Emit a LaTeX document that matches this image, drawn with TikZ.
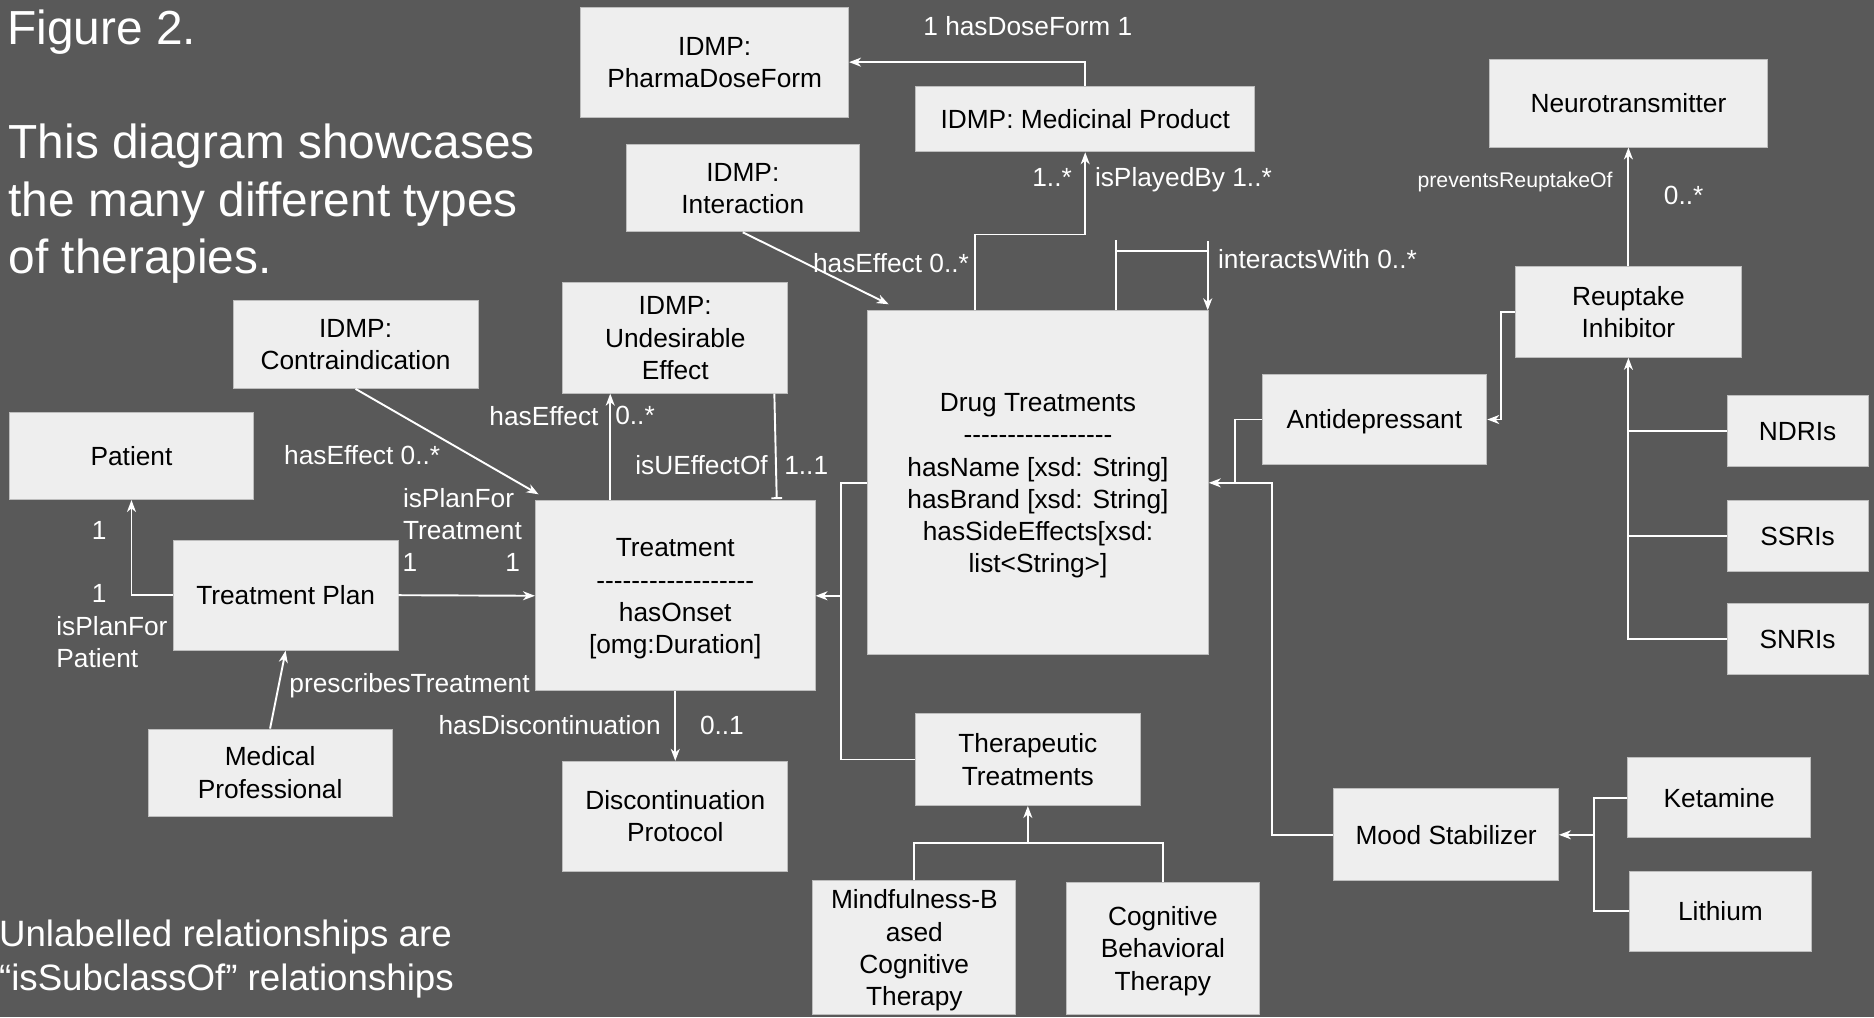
\documentclass[tikz,border=0pt]{standalone}
\usepackage{fontspec}
\setmainfont{Liberation Sans}
\usetikzlibrary{arrows.meta}
\definecolor{bg}{HTML}{595959}
\definecolor{boxfill}{HTML}{EEEEEE}
\definecolor{boxline}{HTML}{BDBDBD}
\newcommand\hy{\mbox{-}}
\begin{document}
\begin{tikzpicture}[x=1pt,y=-1pt,
  box/.style={draw=boxline, line width=0.8pt, fill=boxfill, text=black, align=center, inner sep=0pt, font=\fontsize{22}{27}\selectfont, text height=15.8pt, text depth=0pt},
  two/.style={text height=42.8pt},
  three/.style={text height=69.8pt},
  four/.style={text height=96.8pt},
  six/.style={text height=150.8pt},
  lbl/.style={text=white, inner sep=0pt, font=\fontsize{22}{27}\selectfont, text height=15.8pt, text depth=0pt},
  slbl/.style={text=white, inner sep=0pt, font=\fontsize{17.8}{21}\selectfont, text height=12.8pt, text depth=0pt},
  ttl/.style={text=white, inner sep=0pt, font=\fontsize{40}{48}\selectfont},
  note/.style={text=white, inner sep=0pt, font=\fontsize{30.7}{37}\selectfont},
  conn/.style={draw=white, line width=1.6pt},
  arr/.style={conn, -{Stealth[length=10pt,width=7.5pt,inset=3pt]}},
  bararr/.style={conn, -{Bar[width=9pt,line width=1.6pt]}}
]
\fill[bg] (0,0) rectangle (1568,851);
\useasboundingbox (0,0) rectangle (1568,851);

% titles
\node[ttl, anchor=base west] (fig) at (6,37) {Figure 2.};
\node[ttl, anchor=base west] (d1) at (7,133) {This diagram showcases};
\node[ttl, anchor=base west] (d2) at (7,181) {the many different types};
\node[ttl, anchor=base west] (d3) at (7,229) {of therapies.};
\node[note, anchor=base west] (n1) at (-1,792) {Unlabelled relationships are};
\node[note, anchor=base west] (n2) at (-1,829) {“isSubclassOf” relationships};

% boxes
\node[box, two, minimum width=224pt, minimum height=92pt] (pdf) at (598,52) {IDMP:\\PharmaDoseForm};
\node[box, minimum width=284pt, minimum height=55pt] (mp) at (908,99.5) {IDMP: Medicinal Product};
\node[box, two, minimum width=195pt, minimum height=73pt] (inter) at (621.5,157.5) {IDMP:\\Interaction};
\node[box, two, minimum width=205pt, minimum height=74pt] (contra) at (297.5,288) {IDMP:\\Contraindication};
\node[box, minimum width=204pt, minimum height=73pt] (patient) at (110,381.5) {Patient};
\node[box, minimum width=188pt, minimum height=92pt] (tp) at (239,498) {Treatment Plan};
\node[box, three, minimum width=188pt, minimum height=93pt] (ue) at (565,282.5) {IDMP:\\Undesirable\\Effect};
\node[box, four, minimum width=234pt, minimum height=159pt] (treat) at (565,498.5) {Treatment\\\hy\hy\hy\hy\hy\hy\hy\hy\hy\hy\hy\hy\hy\hy\hy\hy\hy\hy\\hasOnset\\{[omg:Duration]}};
\node[box, six, minimum width=285pt, minimum height=288pt] (drug) at (868.5,404) {Drug Treatments\\\hy\hy\hy\hy\hy\hy\hy\hy\hy\hy\hy\hy\hy\hy\hy\hy\hy\\hasName [xsd: String]\\hasBrand [xsd: String]\\hasSideEffects[xsd:\\list<String>]};
\node[box, minimum width=188pt, minimum height=76pt] (antidep) at (1150,351) {Antidepressant};
\node[box, two, minimum width=189pt, minimum height=76pt] (ri) at (1362.5,261) {Reuptake\\Inhibitor};
\node[box, minimum width=233pt, minimum height=73pt] (nt) at (1362.5,86.5) {Neurotransmitter};
\node[box, minimum width=118pt, minimum height=59pt] (ndri) at (1504,360.5) {NDRIs};
\node[box, minimum width=118pt, minimum height=59pt] (ssri) at (1504,448.5) {SSRIs};
\node[box, minimum width=118pt, minimum height=59pt] (snri) at (1504,534.5) {SNRIs};
\node[box, minimum width=188pt, minimum height=77pt] (ms) at (1210,698.5) {Mood Stabilizer};
\node[box, minimum width=153pt, minimum height=67pt] (ket) at (1438.5,667.5) {Ketamine};
\node[box, minimum width=153pt, minimum height=67pt] (lith) at (1439.5,762.5) {Lithium};
\node[box, two, minimum width=188pt, minimum height=77pt] (tt) at (860,635.5) {Therapeutic\\Treatments};
\node[box, four, minimum width=170pt, minimum height=112pt] (mbct) at (765,793) {Mindfulness-B\\ased\\Cognitive\\Therapy};
\node[box, three, minimum width=162pt, minimum height=111pt] (cbt) at (973,793.5) {Cognitive\\Behavioral\\Therapy};
\node[box, two, minimum width=188pt, minimum height=92pt] (dp) at (565,683) {Discontinuation\\Protocol};
\node[box, two, minimum width=204pt, minimum height=73pt] (medp) at (226,646.5) {Medical\\Professional};

% junction coordinates
\coordinate (jt) at (704,498.5);
\coordinate (jd) at (1033,404);
\coordinate (jm) at (1064,404);
\coordinate (jk) at (1333.6,698.5);
\coordinate (jc) at (860,705.6);
\coordinate (ia) at (933.6,201);
\coordinate (ib) at (933.6,209.7);
\coordinate (ic) at (1010.5,209.7);
\coordinate (id) at (1010.5,202);

% connectors
\draw[arr] (mp.north) |- (pdf.east);
\draw[arr] ([xshift=90pt]drug.north west) -- ++(0,-63.4) -| (mp.south);
\draw[arr] (inter.south) -- ([xshift=18pt,yshift=5pt]drug.north west);
\draw[conn] (ia |- drug.north) -- (ia);
\draw[conn] (ib) -- (ic);
\draw[arr] (id) -- (id |- drug.north);
\draw[arr] (contra.south) -- ([xshift=3pt,yshift=5pt]treat.north west);
\draw[arr] ([xshift=63pt]treat.north west) -- ([xshift=40pt]ue.south west);
\draw[bararr] ([xshift=-11.5pt]ue.south east) -- ([xshift=-32.5pt,yshift=1pt]treat.north east);
\draw[arr] (tp.west) -| (patient.south);
\draw[arr] (tp.east) -- (treat.west);
\draw[arr] (medp.north) -- (tp.south);
\draw[arr] (treat.south) -- (dp.north);
\draw[conn] (drug.west) -| (jt);
\draw[conn] (tt.west) -| (jt);
\draw[arr] (jt) -- (treat.east);
\draw[conn] (antidep.west) -| (jd);
\draw[conn] (ms.west) -| (jm) -- (jd);
\draw[arr] (jd) -- (drug.east);
\draw[arr] (ri.west) -- ++(-12,0) |- (antidep.east);
\draw[arr] (ri.north) -- (nt.south);
\draw[arr] (snri.west) -| (ri.south);
\draw[conn] (ndri.west) -- (ndri.west -| ri.south);
\draw[conn] (ssri.west) -- (ssri.west -| ri.south);
\draw[conn] (ket.west) -| (jk);
\draw[conn] (lith.west) -| (jk);
\draw[arr] (jk) -- (ms.east);
\draw[conn] (mbct.north) |- (jc);
\draw[conn] (cbt.north) |- (jc);
\draw[arr] (jc) -- (tt.south);

% labels
\node[lbl] (l1) at (860,22) {1 hasDoseForm 1};
\node[lbl, anchor=east] (l2) at (897,148) {1..*};
\node[lbl, anchor=west] (l3) at (916,148) {isPlayedBy 1..*};
\node[lbl] (l4) at (745.5,220) {hasEffect 0..*};
\node[lbl, anchor=west] (l5) at (1019,217) {interactsWith 0..*};
\node[slbl, anchor=east] (l6) at (1349.5,150.6) {preventsReuptakeOf};
\node[lbl, anchor=west] (l7) at (1392,163) {0..*};
\node[lbl, anchor=west] (l8) at (237.6,381) {hasEffect 0..*};
\node[lbl, anchor=east] (l9) at (501,348) {hasEffect};
\node[lbl, anchor=west] (l10) at (514.6,347) {0..*};
\node[lbl, anchor=east] (l11) at (642.6,389) {isUEffectOf};
\node[lbl, anchor=west] (l12) at (656,389) {1..1};
\node[lbl, two, anchor=west, align=left] (l13) at (337,430) {isPlanFor\\Treatment};
\node[lbl] (l14) at (343,470) {1};
\node[lbl] (l15) at (429,470) {1};
\node[lbl] (l16) at (83,443.5) {1};
\node[lbl] (l17) at (83,496.5) {1};
\node[lbl, two, anchor=west, align=left] (l18) at (47,537.5) {isPlanFor\\Patient};
\node[lbl, anchor=west] (l19) at (242,571.8) {prescribesTreatment};
\node[lbl, anchor=east] (l20) at (553,606.6) {hasDiscontinuation};
\node[lbl, anchor=west] (l21) at (585.5,606.6) {0..1};
\end{tikzpicture}
\end{document}
